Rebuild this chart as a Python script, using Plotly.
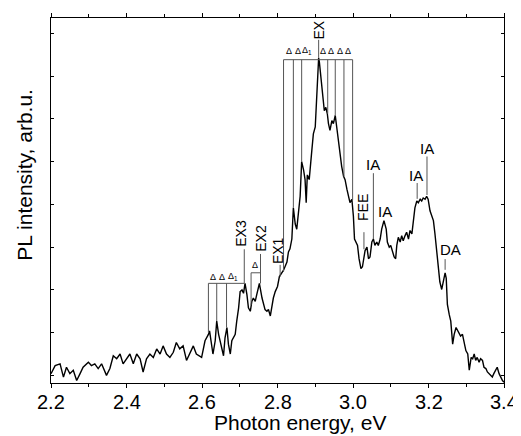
import plotly.graph_objects as go

# ---- spectrum (photon energy, eV ; PL intensity, arb. u.) ----
energy = [2.200, 2.211, 2.224, 2.233, 2.241, 2.250, 2.259, 2.268, 2.277, 2.285, 2.299, 2.307, 2.316, 2.325,
          2.334, 2.347, 2.356, 2.365, 2.374, 2.383, 2.391, 2.400, 2.409, 2.418, 2.427, 2.436, 2.444, 2.453,
          2.462, 2.471, 2.480, 2.489, 2.497, 2.506, 2.515, 2.524, 2.532, 2.541, 2.550, 2.559, 2.568, 2.577,
          2.585, 2.599, 2.608, 2.613, 2.617, 2.620, 2.624, 2.629, 2.635, 2.639, 2.644, 2.648, 2.653, 2.657,
          2.661, 2.666, 2.670, 2.675, 2.679, 2.683, 2.688, 2.692, 2.697, 2.701, 2.706, 2.710, 2.714, 2.719,
          2.723, 2.728, 2.732, 2.736, 2.741, 2.745, 2.752, 2.759, 2.763, 2.767, 2.772, 2.776, 2.781, 2.785,
          2.789, 2.794, 2.800, 2.805, 2.811, 2.816, 2.825, 2.829, 2.833, 2.838, 2.842, 2.847, 2.851, 2.855,
          2.860, 2.864, 2.869, 2.873, 2.876, 2.879, 2.884, 2.891, 2.895, 2.900, 2.904, 2.909, 2.911, 2.915,
          2.919, 2.924, 2.928, 2.932, 2.935, 2.939, 2.944, 2.948, 2.953, 2.957, 2.961, 2.966, 2.970, 2.975,
          2.979, 2.984, 2.988, 2.992, 2.997, 3.001, 3.004, 3.007, 3.012, 3.016, 3.021, 3.025, 3.029, 3.032,
          3.037, 3.041, 3.045, 3.050, 3.054, 3.058, 3.063, 3.067, 3.072, 3.076, 3.082, 3.088, 3.091, 3.096,
          3.100, 3.104, 3.109, 3.113, 3.116, 3.120, 3.125, 3.129, 3.133, 3.138, 3.142, 3.147, 3.151, 3.156,
          3.160, 3.164, 3.169, 3.173, 3.178, 3.182, 3.186, 3.191, 3.195, 3.199, 3.204, 3.208, 3.213, 3.217,
          3.222, 3.226, 3.230, 3.235, 3.239, 3.244, 3.247, 3.250, 3.255, 3.259, 3.264, 3.268, 3.273, 3.279,
          3.285, 3.290, 3.294, 3.299, 3.304, 3.308, 3.313, 3.317, 3.321, 3.325, 3.329, 3.334, 3.338, 3.343,
          3.347, 3.352, 3.356, 3.360, 3.365, 3.369, 3.373, 3.378, 3.382, 3.387, 3.391, 3.396, 3.400]
intensity = [0.4, 2.3, 2.7, -0.4, 1.9, 0.4, 1.2, -1.2, 0.4, 1.9, 3.1, 2.3, 2.7, 1.6,
             2.7, 0.0, 1.6, 4.6, 3.9, 5.0, 2.7, 3.9, 5.0, 2.7, 5.0, 3.9, 0.8, 3.9,
             5.0, 4.2, 6.2, 5.0, 6.9, 5.0, 4.2, 5.4, 7.7, 6.2, 6.9, 3.5, 5.4, 6.9,
             5.0, 4.2, 8.1, 8.8, 9.6, 10.4, 8.1, 5.0, 8.1, 12.7, 9.6, 8.1, 5.8, 4.6,
             8.8, 11.2, 7.3, 5.0, 8.1, 8.8, 9.6, 12.7, 15.8, 19.6, 20.0, 19.2, 21.5, 18.9,
             15.8, 15.0, 17.3, 18.1, 17.3, 18.9, 21.5, 18.1, 16.6, 15.4, 15.0, 15.4, 13.9, 16.2,
             18.1, 19.6, 20.8, 23.1, 23.8, 24.6, 26.5, 28.9, 29.6, 31.9, 39.2, 35.4, 34.2, 38.1,
             41.9, 50.0, 48.1, 45.8, 40.4, 46.9, 45.8, 52.7, 56.5, 58.1, 64.2, 74.3, 73.2, 69.6,
             65.4, 61.9, 62.7, 61.2, 58.9, 57.3, 59.6, 58.9, 60.8, 58.1, 54.2, 51.2, 48.9, 46.6,
             45.8, 43.5, 41.9, 40.4, 41.2, 37.3, 31.9, 31.2, 30.4, 27.3, 25.0, 25.4, 27.3, 29.2,
             30.0, 27.3, 27.7, 31.2, 31.9, 30.4, 31.2, 30.4, 31.9, 34.2, 36.2, 34.2, 31.2, 30.0,
             30.4, 28.9, 27.7, 27.3, 30.4, 32.3, 31.2, 32.7, 31.5, 32.7, 33.5, 31.9, 33.9, 33.1,
             36.5, 39.2, 40.8, 40.4, 41.2, 40.8, 41.5, 41.2, 41.9, 41.2, 38.5, 37.6, 36.2, 33.2,
             29.3, 25.4, 21.9, 20.1, 21.9, 24.0, 22.7, 16.6, 14.2, 12.7, 7.3, 9.6, 11.2, 10.0,
             9.2, 9.6, 7.7, 5.8, 5.0, 1.2, 4.2, 3.9, 5.0, 3.5, 4.2, 3.1, 3.9, 3.5,
             1.9, 1.6, 0.8, 0.4, 0.0, -0.4, 0.4, 1.2, 1.9, 0.4, -0.4, -1.2, -1.6]

x_ticks = [2.2, 2.4, 2.6, 2.8, 3.0, 3.2, 3.4]
x_tick_text = ["2.2", "2.4", "2.6", "2.8", "3.0", "3.2", "3.4"]

# ---- labels ----
rot_labels = ["EX", "EX3", "EX2", "EX1", "FEE"]
rot_label_e = [2.909, 2.704, 2.754, 2.800, 3.027]
rot_label_v = [80.8, 33.2, 32.0, 29.2, 39.2]

hor_labels = ["IA", "IA", "IA", "IA", "DA"]
hor_label_e = [3.053, 3.085, 3.168, 3.196, 3.258]
hor_label_v = [49.4, 38.3, 46.8, 53.1, 29.5]

delta_labels = ["Δ", "Δ", "Δ<sub>1</sub>", "Δ", "Δ", "Δ", "Δ", "Δ", "Δ", "Δ<sub>1</sub>", "Δ"]
delta_e = [2.831, 2.853, 2.878, 2.921, 2.943, 2.965, 2.988, 2.630, 2.653, 2.681, 2.741]
delta_v = [75.9, 75.9, 75.9, 75.9, 75.9, 75.9, 75.9, 23.1, 23.1, 23.1, 25.9]

# vertical marker segments: energy, top, bottom
seg_e = [2.909, 2.816, 2.842, 2.864, 2.933, 2.953, 2.976, 2.999,
         2.617, 2.639, 2.665, 2.712, 2.755, 2.730, 2.807, 3.029, 3.054, 3.170, 3.196, 3.244]
seg_top = [78.5, 73.85, 73.85, 73.85, 73.85, 73.85, 73.85, 73.85,
           21.53, 21.53, 21.53, 29.5, 28.4, 24.0, 25.85, 33.5, 47.3, 45.0, 51.2, 27.2]
seg_bot = [74.3, 24.2, 39.2, 50.0, 61.2, 60.7, 46.5, 41.0,
           10.0, 12.7, 11.15, 21.5, 21.5, 16.5, 23.1, 29.5, 31.9, 41.3, 42.2, 24.7]
# horizontal brackets: start, end, level
br_e0 = [2.816, 2.617, 2.730]
br_e1 = [2.999, 2.712, 2.755]
br_v = [73.85, 21.53, 24.0]

FONT = "Liberation Sans, Arial, sans-serif"

fig = go.Figure()
fig.add_trace(go.Scatter(x=energy, y=intensity, mode="lines",
                         line=dict(color="black", width=1.4), showlegend=False))

shapes = []
for e, t, b in zip(seg_e, seg_top, seg_bot):
    shapes.append(dict(type="line", xref="x", yref="y", x0=e, x1=e, y0=t, y1=b,
                       line=dict(color="#555555", width=1)))
for a, b, v in zip(br_e0, br_e1, br_v):
    shapes.append(dict(type="line", xref="x", yref="y", x0=a, x1=b, y0=v, y1=v,
                       line=dict(color="#555555", width=1)))

annotations = []
for t, e, v in zip(rot_labels, rot_label_e, rot_label_v):
    annotations.append(dict(x=e, y=v, xref="x", yref="y", text=t, showarrow=False, textangle=-90,
                            xanchor="center", yanchor="middle",
                            font=dict(family=FONT, size=14, color="black")))
for t, e, v in zip(hor_labels, hor_label_e, hor_label_v):
    annotations.append(dict(x=e, y=v, xref="x", yref="y", text=t, showarrow=False,
                            xanchor="center", yanchor="middle",
                            font=dict(family=FONT, size=15, color="black")))
for t, e, v in zip(delta_labels, delta_e, delta_v):
    annotations.append(dict(x=e, y=v, xref="x", yref="y", text=t, showarrow=False,
                            xanchor="center", yanchor="middle",
                            font=dict(family=FONT, size=9, color="black")))
# x tick labels (placed through the x scale)
for t, e in zip(x_tick_text, x_ticks):
    annotations.append(dict(x=e, y=-0.052, xref="x", yref="paper", text=t, showarrow=False,
                            xanchor="center", yanchor="middle",
                            font=dict(family=FONT, size=20, color="black")))
annotations.append(dict(x=2.86, y=-0.108, xref="x", yref="paper", text="Photon energy, eV",
                        showarrow=False, xanchor="center", yanchor="middle",
                        font=dict(family=FONT, size=21, color="black")))
annotations.append(dict(x=-0.058, y=0.57, xref="paper", yref="paper", text="PL intensity, arb.u.",
                        showarrow=False, textangle=-90, xanchor="center", yanchor="middle",
                        font=dict(family=FONT, size=21, color="black")))

# the page body adds an 8 px offset, so the figure is sized to fill the rest of the window
fig.update_layout(
    width=513, height=428,
    margin=dict(l=43, r=17, t=5, b=53),
    paper_bgcolor="white", plot_bgcolor="white",
    shapes=shapes, annotations=annotations,
    font=dict(family=FONT, color="black"),
    xaxis=dict(range=[2.2, 3.4], tickvals=x_ticks, showticklabels=False,
               ticks="outside", ticklen=4, tickwidth=1, tickcolor="black",
               minor=dict(dtick=0.1, ticks="outside", ticklen=3, tickcolor="black", showgrid=False),
               showline=True, linecolor="black", linewidth=1, mirror="ticks",
               showgrid=False, zeroline=False),
    yaxis=dict(range=[-1.78, 83.6], tickvals=[0, 10, 20, 30, 40, 50, 60, 70, 80],
               ticks="inside", ticklen=3, tickwidth=1, tickcolor="black",
               showticklabels=False,
               showline=True, linecolor="black", linewidth=1, mirror="ticks",
               showgrid=False, zeroline=False),
)

fig.write_html("out.html")
